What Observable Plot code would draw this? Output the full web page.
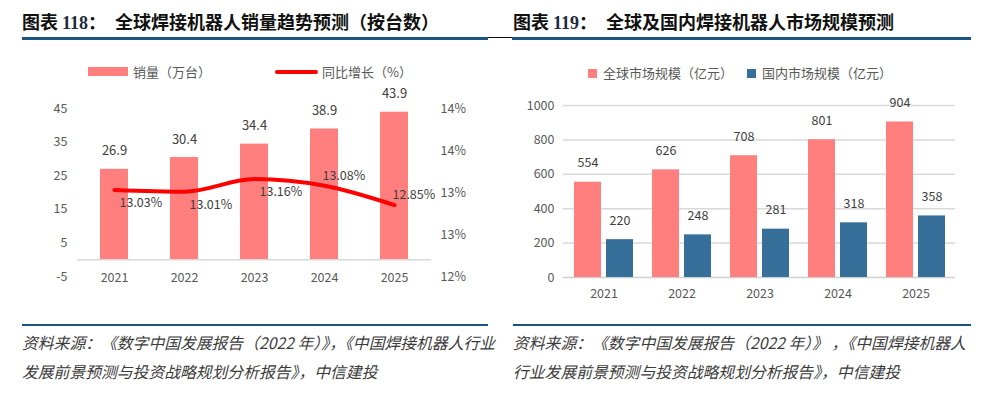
<!DOCTYPE html>
<html><head><meta charset="utf-8">
<script src="https://cdn.jsdelivr.net/npm/d3@7"></script>
<script src="https://cdn.jsdelivr.net/npm/@observablehq/plot@0.6"></script>
<style>
body{margin:0;background:#fff;}
#root{position:relative;width:1004px;height:393px;overflow:hidden;background:#fff;font-family:'Noto Sans CJK SC','Noto Sans',sans-serif;}
.abs{position:absolute;white-space:nowrap;}
.title{font-size:18px;font-weight:bold;color:#111;line-height:22px;top:10px;}
.num{font-family:'Liberation Serif','Times New Roman',serif;font-weight:bold;color:#1d2a3a;}
.rule{position:absolute;background:#1a5483;}
.leg{font-size:13px;color:#595959;line-height:16px;top:64px;}
.cap{font-size:15.8px;font-style:italic;color:#3a3a3a;line-height:29px;top:328px;}
.plot{position:absolute;}
</style></head><body>
<div id="root">
  <div class="abs title" style="left:22px">图表 <span class="num">118</span>：</div>
  <div class="abs title" style="left:115px">全球焊接机器人销量趋势预测（按台数）</div>
  <div class="abs title" style="left:513px">图表 <span class="num">119</span>：</div>
  <div class="abs title" style="left:606px">全球及国内焊接机器人市场规模预测</div>
  <div class="rule" style="left:22px;top:37px;width:466px;height:3px"></div>
  <div class="rule" style="left:488px;top:37px;width:24px;height:1px;background:#111"></div>
  <div class="rule" style="left:512px;top:37px;width:459px;height:3px"></div>

  <div class="abs" style="left:88px;top:67px;width:40px;height:9px;background:#ff7f7f"></div>
  <div class="abs leg" style="left:133px">销量（万台）</div>
  <div class="abs" style="left:275px;top:70px;width:43px;height:4px;border-radius:2px;background:#ff0000"></div>
  <div class="abs leg" style="left:322px">同比增长（%）</div>

  <div class="abs" style="left:588px;top:69px;width:9px;height:9px;background:#ff7f7f"></div>
  <div class="abs leg" style="left:603px;top:65px">全球市场规模（亿元）</div>
  <div class="abs" style="left:747px;top:69px;width:9px;height:9px;background:#36709a"></div>
  <div class="abs leg" style="left:762px;top:65px">国内市场规模（亿元）</div>

  <div id="leftBars" class="plot" style="left:0;top:80px"></div>
  <div id="leftLine" class="plot" style="left:0;top:80px"></div>
  <div id="rightBars" class="plot" style="left:500px;top:80px"></div>

  <div class="rule" style="left:22px;top:324px;width:466px;height:2px"></div>
  <div class="rule" style="left:513px;top:324px;width:458px;height:2px"></div>
  <div class="abs cap" style="left:22px">资料来源：《数字中国发展报告（2022 年）》，《中国焊接机器人行业<br>发展前景预测与投资战略规划分析报告》，中信建投</div>
  <div class="abs cap" style="left:513px">资料来源：《数字中国发展报告（2022 年）》 ，《中国焊接机器人<br>行业发展前景预测与投资战略规划分析报告》，中信建投</div>
</div>
<script>
const years = ["2021","2022","2023","2024","2025"];
const salesWan = [26.9, 30.4, 34.4, 38.9, 43.9];
const growthPct = [13.03, 13.01, 13.16, 13.08, 12.85];
const leftTicks = [-5, 5, 15, 25, 35, 45];
const rightTicks = [12, 12.5, 13, 13.5, 14];
const rightTickLabels = ["12%", "13%", "13%", "14%", "14%"];
const globalMarket = [554, 626, 708, 801, 904];
const domesticMarket = [220, 248, 281, 318, 358];
const marketTicks = [0, 200, 400, 600, 800, 1000];

const FONT = "'Noto Sans CJK SC','Noto Sans',sans-serif";
const PINK = "#ff7f7f", BLUE = "#36709a";
const baseStyle = {fontFamily: FONT, fontSize: "12.5px", color: "#595959", background: "transparent", overflow: "visible"};

const rows = years.map((y, i) => ({year: y, sales: salesWan[i], growth: growthPct[i]}));

// Left: bars
const leftBars = Plot.plot({
  width: 500, height: 210,
  marginTop: 28, marginBottom: 14, marginLeft: 77, marginRight: 69,
  style: baseStyle,
  x: {domain: years, paddingInner: 0.6, paddingOuter: 0.3},
  y: {domain: [-5, 45]},
  marks: [
    Plot.barY(rows, {x: "year", y: "sales", fill: PINK}),
    Plot.ruleY([0], {stroke: "#d9d9d9", strokeWidth: 1.5}),
    Plot.text(rows, {x: "year", y: "sales", text: d => d.sales.toFixed(1), dy: -18, fill: "#404040", fontSize: 13}),
    Plot.axisY({ticks: leftTicks, tickFormat: d => String(d), tickSize: 0, tickPadding: 10, label: null, fontSize: 12.5}),
    Plot.axisX({tickSize: 0, tickPadding: -3, label: null, fontSize: 12.5})
  ]
});
document.getElementById("leftBars").appendChild(leftBars);

// Left: growth line (secondary axis)
const leftLine = Plot.plot({
  width: 500, height: 210,
  marginTop: 28, marginBottom: 14, marginLeft: 77, marginRight: 69,
  style: baseStyle,
  x: {type: "point", domain: years, padding: 0.5, axis: null},
  y: {domain: [12, 14]},
  marks: [
    Plot.line(rows, {x: "year", y: "growth", stroke: "#ff0000", strokeWidth: 4, curve: "monotone-x", strokeLinecap: "round"}),
    Plot.text(rows.slice(0, 3), {x: "year", y: "growth", text: d => d.growth.toFixed(2) + "%", textAnchor: "start", dx: 5, dy: 13, fill: "#404040", fontSize: 12.5}),
    Plot.text(rows.slice(3), {x: "year", y: "growth", text: d => d.growth.toFixed(2) + "%", textAnchor: "start", dx: -2, dy: -10, fill: "#404040", fontSize: 12.5}),
    Plot.axisY({anchor: "right", ticks: rightTicks, tickFormat: d => rightTickLabels[rightTicks.indexOf(d)], tickSize: 0, tickPadding: 9, label: null, fontSize: 12.5})
  ]
});
document.getElementById("leftLine").appendChild(leftLine);

// Right: grouped bars
const mrows = years.map((y, i) => ({year: y, g: globalMarket[i], d: domesticMarket[i]}));
const rightBars = Plot.plot({
  width: 504, height: 230,
  marginTop: 25, marginBottom: 33, marginLeft: 63, marginRight: 49,
  style: baseStyle,
  x: {domain: years, paddingInner: 0.25, paddingOuter: 0.125},
  y: {domain: [0, 1000]},
  marks: [
    Plot.ruleY(marketTicks.slice(1), {stroke: "#d9d9d9", strokeWidth: 1.5}),
    Plot.ruleY([0], {stroke: "#d0d0d0", strokeWidth: 1.5}),
    Plot.barY(mrows, {x: "year", y: "g", fill: PINK, insetRight: 32}),
    Plot.barY(mrows, {x: "year", y: "d", fill: BLUE, insetLeft: 32}),
    Plot.text(mrows, {x: "year", y: "g", text: d => String(d.g), dx: -16, dy: -19, fill: "#404040", fontSize: 12.5}),
    Plot.text(mrows, {x: "year", y: "d", text: d => String(d.d), dx: 16, dy: -19, fill: "#404040", fontSize: 12.5}),
    Plot.axisY({ticks: marketTicks, tickFormat: d => String(d), tickSize: 0, tickPadding: 9, label: null, fontSize: 12.5}),
    Plot.axisX({tickSize: 0, tickPadding: 12, label: null, fontSize: 12.5})
  ]
});
document.getElementById("rightBars").appendChild(rightBars);
</script>
</body></html>
